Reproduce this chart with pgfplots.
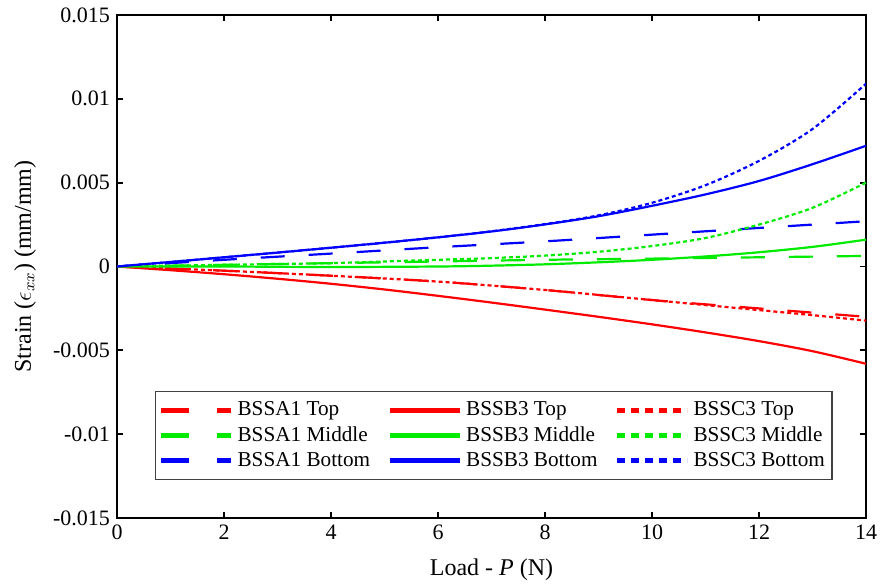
\documentclass[border=0pt]{standalone}
\usepackage{fontspec}
\setmainfont{Liberation Serif}
\usepackage{pgfplots}
\pgfplotsset{compat=1.18}
\definecolor{gG}{RGB}{0,235,0}
\begin{document}
\begin{tikzpicture}
\begin{axis}[
  scale only axis,
  width=374.5pt, height=251.5pt,
  xmin=0, xmax=14, ymin=-0.015, ymax=0.015,
  xtick={0,2,...,14},
  ytick={-0.015,-0.01,-0.005,0,0.005,0.01,0.015},
  yticklabels={-0.015,-0.01,-0.005,0,0.005,0.01,0.015},
  scaled y ticks=false,
  /pgf/number format/assume math mode=true,
  tick align=inside,
  major tick length=3pt,
  axis line style={line width=0.9pt},
  tick style={line width=0.9pt, black},
  tick label style={font=\fontsize{11}{13}\selectfont},
  xlabel={Load - \textit{P} (N)},
  ylabel={Strain ($\epsilon_{xx}$) (mm/mm)},
  label style={font=\fontsize{12}{14}\selectfont},
  xlabel style={at={(axis description cs:0.5,-0.1034)}, anchor=center},
  ylabel style={at={(axis description cs:-0.1228,0.5)}, anchor=center},
  legend columns=3,
  legend cell align=left,
  legend style={at={(axis description cs:0.503,0.0755)}, anchor=south,
    draw=black!75, line width=0.6pt, font=\fontsize{10.6}{13}\selectfont,
    /tikz/every even column/.append style={column sep=6.5pt},
    inner xsep=1.5pt, inner ysep=3pt},
  legend image code/.code={\draw[#1] (0pt,0pt) -- (35pt,0pt);},
  lA/.style={line width=1.1pt, dash pattern=on 12pt off 12pt, smooth, forget plot},
  lB/.style={line width=1.1pt, smooth, forget plot},
  lC/.style={line width=1.1pt, dash pattern=on 2pt off 1.5pt, smooth, forget plot},
]
% legend samples (thicker than the curves, as in the original)
\addlegendimage{red, line width=2.5pt, dash pattern=on 14pt off 14pt}
\addlegendentry{BSSA1 Top}
\addlegendimage{red, line width=2.5pt}
\addlegendentry{BSSB3 Top}
\addlegendimage{red, line width=2.5pt, dash pattern=on 4pt off 3pt}
\addlegendentry{BSSC3 Top}
\addlegendimage{gG, line width=2.5pt, dash pattern=on 14pt off 14pt}
\addlegendentry{BSSA1 Middle}
\addlegendimage{gG, line width=2.5pt}
\addlegendentry{BSSB3 Middle}
\addlegendimage{gG, line width=2.5pt, dash pattern=on 4pt off 3pt}
\addlegendentry{BSSC3 Middle}
\addlegendimage{blue, line width=2.5pt, dash pattern=on 14pt off 14pt}
\addlegendentry{BSSA1 Bottom}
\addlegendimage{blue, line width=2.5pt}
\addlegendentry{BSSB3 Bottom}
\addlegendimage{blue, line width=2.5pt, dash pattern=on 4pt off 3pt}
\addlegendentry{BSSC3 Bottom}

% BSSA1 (dashed)
\addplot[lA, red] coordinates {(0,0) (2,-0.00025) (4,-0.00055) (6,-0.0009) (8,-0.0014) (10,-0.0020) (12,-0.0025) (14,-0.0030)};
\addplot[lA, gG] coordinates {(0,0) (2,0.0001) (4,0.0002) (6,0.0003) (8,0.0004) (10,0.00047) (12,0.00055) (14,0.00063)};
\addplot[lA, blue] coordinates {(0,0) (2,0.0004) (4,0.00077) (6,0.00115) (8,0.0015) (10,0.0019) (12,0.0023) (14,0.0027)};
% BSSC3 (dotted)
\addplot[lC, red] coordinates {(0,0) (2,-0.00025) (4,-0.00055) (6,-0.0009) (8,-0.0014) (10,-0.0020) (11,-0.0023) (12,-0.0026) (13,-0.0029) (14,-0.00323)};
\addplot[lC, gG] coordinates {(0,0) (1,0.00005) (2,0.0001) (3,0.00015) (4,0.0002) (5,0.0003) (6,0.0004) (7,0.0005) (8,0.00065) (9,0.00088) (10,0.00122) (11,0.0017) (12,0.0025) (13,0.0035) (14,0.0050)};
\addplot[lC, blue] coordinates {(0,0) (1,0.00027) (2,0.00055) (3,0.00083) (4,0.00112) (5,0.00142) (6,0.00174) (7,0.0021) (8,0.00253) (9,0.00305) (10,0.0038) (11,0.00485) (12,0.0063) (13,0.0082) (14,0.0109)};
% BSSB3 (solid)
\addplot[lB, red] coordinates {(0,0) (1,-0.00022) (2,-0.00046) (3,-0.00073) (4,-0.00103) (5,-0.00137) (6,-0.00175) (7,-0.00215) (8,-0.00257) (9,-0.003) (10,-0.00345) (11,-0.00393) (12,-0.00445) (13,-0.00505) (14,-0.0058)};
\addplot[lB, gG] coordinates {(0,0) (2,0.0) (4,-0.00003) (6,0.0) (7,0.00005) (8,0.00013) (9,0.00025) (10,0.0004) (11,0.0006) (12,0.00085) (13,0.00117) (14,0.0016)};
\addplot[lB, blue] coordinates {(0,0) (1,0.00027) (2,0.00055) (3,0.00083) (4,0.00112) (5,0.00142) (6,0.00174) (7,0.00209) (8,0.00251) (9,0.003) (10,0.00362) (11,0.0043) (12,0.0051) (13,0.0061) (14,0.0072)};
\end{axis}
\pgfresetboundingbox
\path (current axis.south west) ++(-58.5pt,-33.5pt) rectangle ([shift={(7pt,7.5pt)}]current axis.north east);
\end{tikzpicture}
\end{document}
